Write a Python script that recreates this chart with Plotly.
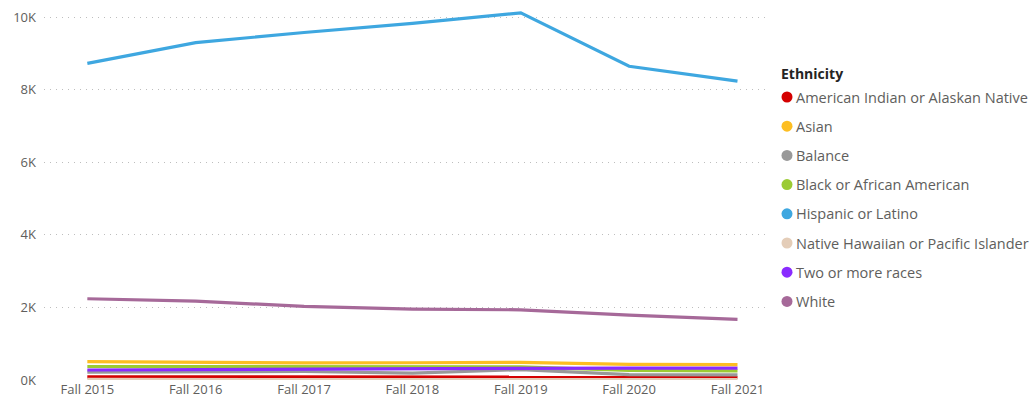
import plotly.graph_objects as go

years = ["Fall 2015", "Fall 2016", "Fall 2017", "Fall 2018", "Fall 2019", "Fall 2020", "Fall 2021"]

american_indian = [85, 84, 83, 83, 84, 82, 80]
asian = [505, 480, 470, 475, 485, 430, 425]
balance = [215, 225, 235, 190, 285, 150, 143]
black = [372, 370, 368, 362, 360, 265, 250]
hispanic = [8730, 9300, 9580, 9830, 10120, 8650, 8240]
native_hawaiian = [15, 15, 14, 14, 14, 12, 12]
two_or_more = [275, 290, 303, 310, 317, 330, 330]
white = [2240, 2175, 2030, 1955, 1935, 1790, 1670]

series_names = ["American Indian or Alaskan Native", "Asian", "Balance", "Black or African American",
                "Hispanic or Latino", "Native Hawaiian or Pacific Islander", "Two or more races", "White"]
series_values = [american_indian, asian, balance, black, hispanic, native_hawaiian, two_or_more, white]
series_colors = ["#D40000", "#FDBE22", "#999999", "#9BCB34", "#3EA7E0", "#E4CDB8", "#8A2BFF", "#A66999"]

draw_order = [0, 5, 2, 3, 6, 1, 7, 4]

# plot area in pixels
L, R, T, B = 44, 770, 10, 380
W, H = 1031, 403

fig = go.Figure()
for i in draw_order:
    fig.add_trace(go.Scatter(x=years, y=series_values[i], mode="lines", name=series_names[i],
                             line=dict(color=series_colors[i], width=3.2), showlegend=False))

def px_x(p):
    return (p - L) / (R - L)

def px_y(p):
    return (B - p) / (B - T)

annotations = [dict(text="<b>Ethnicity</b>", xref="paper", yref="paper",
                    x=px_x(779), y=px_y(73), xanchor="left", yanchor="middle",
                    showarrow=False, font=dict(size=14, color="#252423"))]
shapes = []
row0, gap = 97, 29.2
for k, name in enumerate(series_names):
    cy = row0 + k * gap
    shapes.append(dict(type="circle", xref="paper", yref="paper",
                       x0=px_x(781.5), x1=px_x(792.5), y0=px_y(cy + 5.5), y1=px_y(cy - 5.5),
                       fillcolor=series_colors[k], line=dict(width=0)))
    annotations.append(dict(text=name, xref="paper", yref="paper",
                            x=px_x(794), y=px_y(cy), xanchor="left", yanchor="middle",
                            showarrow=False, font=dict(size=14.5, color="#605E5C")))

tickvals = [0, 2000, 4000, 6000, 8000, 10000]
ticktext = ["0K", "2K", "4K", "6K", "8K", "10K"]

fig.update_layout(
    width=W, height=H,
    margin=dict(l=L, r=W - R, t=T, b=H - B),
    paper_bgcolor="white", plot_bgcolor="white",
    font=dict(family="Open Sans, sans-serif", color="#605E5C", size=13),
    showlegend=False,
    xaxis=dict(range=[-0.4, 6.3], showgrid=False, zeroline=False, showline=False,
               ticks="", automargin=False, tickfont=dict(size=13, color="#605E5C")),
    yaxis=dict(range=[0, 10200], tickvals=tickvals, ticktext=ticktext,
               showgrid=True, gridcolor="#BEBEBE", griddash="1px,5px", gridwidth=1,
               zeroline=False, showline=False, ticks="", ticklabelstandoff=7,
               automargin=False, tickfont=dict(size=13, color="#605E5C")),
    annotations=annotations,
    shapes=shapes,
)

fig.write_html("out.html", config={"displayModeBar": False},
               post_script="document.body.style.margin='0';document.body.style.overflow='hidden';")
